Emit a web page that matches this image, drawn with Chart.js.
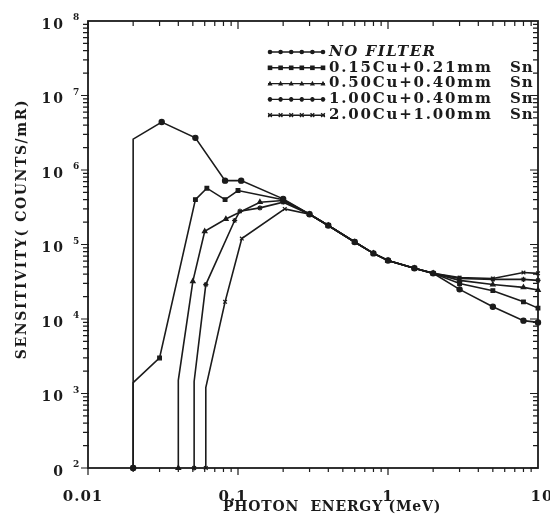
<!DOCTYPE html>
<html>
<head>
<meta charset="utf-8">
<script src="https://cdn.jsdelivr.net/npm/chart.js@4.4.0/dist/chart.umd.min.js"></script>
<style>
	body { margin: 0; background: #fff; }
	#wrap { width: 550px; height: 522px; }
</style>
</head>
<body>
<div id="wrap"><canvas id="sensChart" width="550" height="522"></canvas></div>
<script>
// photon energy (MeV) / sensitivity (counts per mR)
var seriesNames = ['NO FILTER', '0.15Cu+0.21mm', '0.50Cu+0.40mm', '1.00Cu+0.40mm', '2.00Cu+1.00mm'];

// stretch where all five curves lie on top of each other
var commonEnergy = [0.3, 0.4, 0.6, 0.8, 1, 1.5, 2];
var commonSens = [2.55e5, 1.8e5, 1.08e5, 7.6e4, 6.1e4, 4.8e4, 4.1e4];
var highEnergy = [3, 5, 8, 10];

var noFilterEnergy = [0.02, 0.02, 0.031, 0.052, 0.082, 0.105, 0.2];
var noFilterSens = [1e2, 2.6e6, 4.4e6, 2.7e6, 7.2e5, 7.2e5, 4.1e5];
var noFilterHigh = [2.5e4, 1.46e4, 9.5e3, 9.0e3];

var cu015Energy = [0.02, 0.02, 0.03, 0.052, 0.062, 0.082, 0.1, 0.2];
var cu015Sens = [1e2, 1.4e3, 3.0e3, 4.0e5, 5.7e5, 4.0e5, 5.3e5, 4.0e5];
var cu015High = [3.0e4, 2.4e4, 1.7e4, 1.4e4];

var cu050Energy = [0.04, 0.04, 0.05, 0.06, 0.083, 0.14, 0.2];
var cu050Sens = [1e2, 1.5e3, 3.2e4, 1.5e5, 2.2e5, 3.7e5, 3.9e5];
var cu050High = [3.3e4, 2.9e4, 2.66e4, 2.45e4];

var cu100Energy = [0.051, 0.051, 0.061, 0.095, 0.103, 0.14, 0.2];
var cu100Sens = [1e2, 1.45e3, 2.9e4, 2.1e5, 2.8e5, 3.1e5, 3.7e5];
var cu100High = [3.5e4, 3.4e4, 3.4e4, 3.3e4];

var cu200Energy = [0.061, 0.061, 0.082, 0.106, 0.205];
var cu200Sens = [1e2, 1.2e3, 1.7e4, 1.2e5, 3.0e5];
var cu200High = [3.6e4, 3.5e4, 4.2e4, 4.1e4];

var xTicks = [0.01, 0.1, 1, 10];
var xTickLabels = ['0.01', '0.1', '1', '10'];
var yExponents = [2, 3, 4, 5, 6, 7, 8];

var ink = '#1b1b1b';
var markers = ['circle', 'rect', 'triangle', 'star', 'crossRot'];

function buildPoints(lowE, lowS, highS) {
	var pts = [];
	lowE.forEach(function (e, i) { pts.push({ x: e, y: lowS[i] }); });
	commonEnergy.forEach(function (e, i) { pts.push({ x: e, y: commonSens[i] }); });
	highEnergy.forEach(function (e, i) { pts.push({ x: e, y: highS[i] }); });
	return pts;
}

var curves = [
	buildPoints(noFilterEnergy, noFilterSens, noFilterHigh),
	buildPoints(cu015Energy, cu015Sens, cu015High),
	buildPoints(cu050Energy, cu050Sens, cu050High),
	buildPoints(cu100Energy, cu100Sens, cu100High),
	buildPoints(cu200Energy, cu200Sens, cu200High)
];

var datasets = curves.map(function (pts, i) {
	return {
		label: seriesNames[i],
		data: pts,
		borderColor: ink,
		backgroundColor: ink,
		borderWidth: 1.6,
		pointStyle: markers[i],
		// no marker where the cut-off line turns into the curve
		pointRadius: function (c) { return c.dataIndex === 1 ? 0 : 2.6; },
		pointBorderWidth: 1.2,
		pointBorderColor: ink,
		pointBackgroundColor: ink,
		tension: 0,
		clip: false
	};
});

function drawMarker(g, style, x, y, r) {
	g.beginPath();
	if (style === 'circle') {
		g.arc(x, y, r, 0, Math.PI * 2);
		g.fill();
	} else if (style === 'rect') {
		g.fillRect(x - r, y - r, r * 2, r * 2);
	} else if (style === 'triangle') {
		g.moveTo(x, y - r * 1.2);
		g.lineTo(x + r * 1.1, y + r * 0.8);
		g.lineTo(x - r * 1.1, y + r * 0.8);
		g.closePath();
		g.fill();
	} else if (style === 'star') {
		g.moveTo(x - r, y); g.lineTo(x + r, y);
		g.moveTo(x, y - r); g.lineTo(x, y + r);
		g.moveTo(x - r * 0.7, y - r * 0.7); g.lineTo(x + r * 0.7, y + r * 0.7);
		g.moveTo(x + r * 0.7, y - r * 0.7); g.lineTo(x - r * 0.7, y + r * 0.7);
		g.stroke();
	} else {
		g.moveTo(x - r * 0.8, y - r * 0.8); g.lineTo(x + r * 0.8, y + r * 0.8);
		g.moveTo(x + r * 0.8, y - r * 0.8); g.lineTo(x - r * 0.8, y + r * 0.8);
		g.stroke();
	}
}

var framePlugin = {
	id: 'frame',
	afterDatasetsDraw: function (chart) {
		var g = chart.ctx;
		var a = chart.chartArea;
		var xs = chart.scales.x;
		var ys = chart.scales.y;
		g.save();
		g.strokeStyle = ink;
		g.fillStyle = ink;

		// box
		g.lineWidth = 1.8;
		g.strokeRect(a.left, a.top, a.right - a.left, a.bottom - a.top);

		// log ticks
		g.lineWidth = 1.2;
		g.beginPath();
		for (var d = -2; d <= 0; d++) {
			for (var m = 1; m <= 9; m++) {
				var px = xs.getPixelForValue(m * Math.pow(10, d));
				var big = m === 1;
				g.moveTo(px, a.bottom); g.lineTo(px, a.bottom + (big ? 7 : 4));
				g.moveTo(px, a.top); g.lineTo(px, a.top + (big ? 8 : 5));
			}
		}
		for (var e = 2; e <= 7; e++) {
			for (var k = 1; k <= 9; k++) {
				var py = ys.getPixelForValue(k * Math.pow(10, e));
				var major = k === 1;
				g.moveTo(a.left - (major ? 7 : 5), py); g.lineTo(a.left + 1, py);
				g.moveTo(a.right - (major ? 8 : 5), py); g.lineTo(a.right, py);
			}
		}
		g.stroke();

		// x tick labels
		g.font = 'bold 15px "DejaVu Serif"';
		g.letterSpacing = '1px';
		g.textAlign = 'center';
		g.textBaseline = 'middle';
		xTicks.forEach(function (v, i) {
			var shift = v < 1 ? -5 : (v > 1 ? 4 : 0);
			g.fillText(xTickLabels[i], xs.getPixelForValue(v) + shift, a.bottom + 29);
		});

		// y tick labels: 10 with raised exponent
		yExponents.forEach(function (p) {
			var py = ys.getPixelForValue(Math.pow(10, p));
			g.font = 'bold 14px "DejaVu Serif"';
			g.letterSpacing = '2px';
			g.textAlign = 'right';
			g.fillText(p === 2 ? '0' : '10', a.left - 23, py + 4);
			g.font = 'bold 9px "DejaVu Serif"';
			g.letterSpacing = '0px';
			g.textAlign = 'left';
			g.fillText(String(p), a.left - 15, py - 3);
		});

		// axis titles
		g.font = 'bold 14px "DejaVu Serif"';
		g.letterSpacing = '0.8px';
		g.textAlign = 'center';
		g.fillText('PHOTON  ENERGY (MeV)', 332, a.bottom + 39);
		g.save();
		g.translate(22, 229);
		g.rotate(-Math.PI / 2);
		g.letterSpacing = '1.6px';
		g.fillText('SENSITIVITY( COUNTS/mR)', 0, 0);
		g.restore();

		// legend
		var rowY = 52;
		seriesNames.forEach(function (name, i) {
			var y = rowY + i * 15.8;
			g.lineWidth = 1.4;
			g.beginPath();
			g.moveTo(268, y); g.lineTo(325, y);
			g.stroke();
			for (var j = 0; j < 6; j++) {
				drawMarker(g, markers[i], 270 + j * 10.6, y, 2.3);
			}
			g.textAlign = 'left';
			if (i === 0) {
				g.font = 'italic bold 15px "DejaVu Serif"';
				g.letterSpacing = '1.5px';
				g.fillText(name, 329, y);
			} else {
				g.font = 'bold 15px "DejaVu Serif"';
				g.letterSpacing = '1.8px';
				g.fillText(name, 329, y);
				g.letterSpacing = '1px';
				g.fillText('Sn', 510, y);
			}
		});
		g.restore();
	}
};

var ctx = document.getElementById('sensChart');
var myChart = new Chart(ctx, {
	type: 'line',
	data: { datasets: datasets },
	options: {
		responsive: false,
		animation: false,
		layout: {
			padding: { left: 88, right: 12, top: 21, bottom: 54 }
		},
		scales: {
			x: { type: 'logarithmic', min: 0.01, max: 10, display: false },
			y: { type: 'logarithmic', min: 100, max: 1e8, display: false }
		},
		plugins: {
			legend: { display: false },
			tooltip: { enabled: false }
		}
	},
	plugins: [framePlugin]
});
</script>
</body>
</html>
